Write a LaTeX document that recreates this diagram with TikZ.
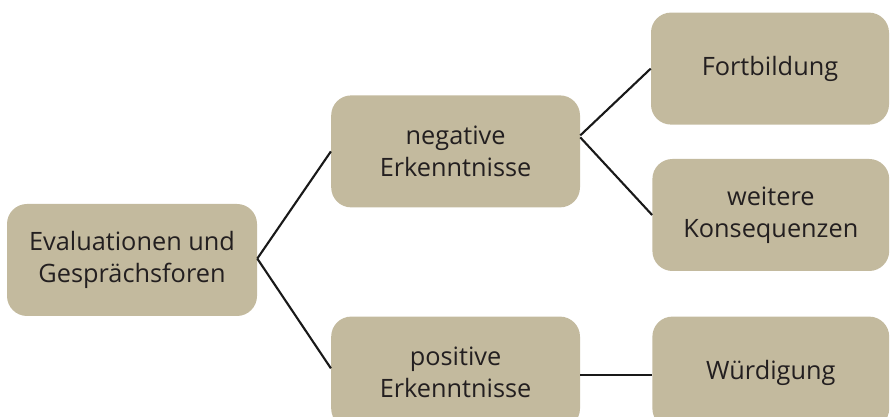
\documentclass[tikz,border=0pt]{standalone}
\usepackage{fontspec}
\setmainfont{Open Sans}
\usepackage{tikz}
\usetikzlibrary{positioning}
\definecolor{boxtan}{RGB}{195,186,158}
\definecolor{inktext}{RGB}{35,31,32}
\tikzset{sabox/.style={rectangle, fill=boxtan, rounded corners=0.5cm,
minimum width=6.22cm, minimum height=2.8cm, align=center,
text=inktext, font=\fontsize{18}{22.5}\selectfont}}
\tikzset{link/.style={line width=1.5pt, black!90}}
\begin{document}
\begin{tikzpicture}[
]
\useasboundingbox (0,0) rectangle (22.25,10.425);
\clip (0,0) rectangle (22.25,10.425);

\node [sabox, minimum width=6.25cm] (root) at (3.3, 3.925) {Evaluationen und\\Gespr\"achsforen};

\node [sabox] (neg) at (11.39, 6.64) {negative\\Erkenntnisse};
\node [sabox] (pos) at (11.39, 1.11) {positive\\Erkenntnisse};

\node [sabox, minimum width=5.95cm] (fort) at (19.25, 8.71) {Fortbildung};
\node [sabox, minimum width=5.92cm] (weit) at (19.27, 5.05) {weitere\\Konsequenzen};
\node [sabox, minimum width=5.92cm] (wuer) at (19.27, 1.11) {W\"urdigung};

\draw [link] ([yshift=1pt]root.east) -- (neg.west);
\draw [link] ([yshift=1pt]root.east) -- ([yshift=3pt]pos.west);
\draw [link] ([yshift=0.4cm]neg.east) -- (fort.west);
\draw [link] ([yshift=0.35cm]neg.east) -- (weit.west);
\draw [link] ([yshift=-0.07cm]pos.east) -- ([yshift=-0.07cm]wuer.west);

\end{tikzpicture}
\end{document}
